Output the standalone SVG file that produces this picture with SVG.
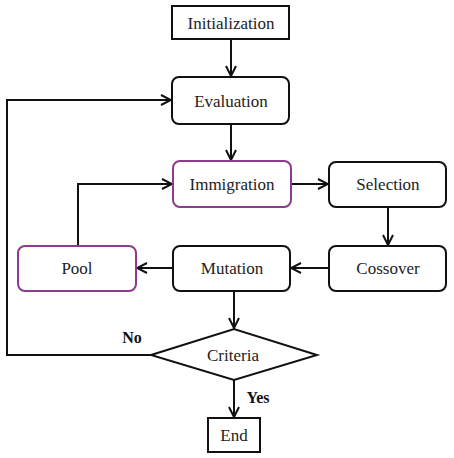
<svg xmlns="http://www.w3.org/2000/svg" width="454" height="458" viewBox="0 0 454 458" font-family="'Liberation Serif', 'DejaVu Serif', serif">
<defs>
<marker id="ah" viewBox="0 0 12 12" refX="11" refY="6" markerWidth="12" markerHeight="12" markerUnits="userSpaceOnUse" orient="auto">
<path d="M1,1 L11,6 L1,11" fill="none" stroke="#111" stroke-width="2"/>
</marker>
<style>
.n{fill:#fff;stroke:#111;stroke-width:2}
.p{fill:#fff;stroke:#8e3a8e;stroke-width:2}
.t{font-family:'Liberation Serif','DejaVu Serif',serif;font-size:17px;fill:#222;text-anchor:middle}
.b{font-family:'Liberation Serif','DejaVu Serif',serif;font-size:16px;font-weight:bold;fill:#111;text-anchor:middle}
.c{fill:none;stroke:#111;stroke-width:2;marker-end:url(#ah)}
</style>
</defs>
<rect width="454" height="458" fill="#fff"/>
<g id="connectors">
<path class="c" d="M231,39 V76"/>
<path class="c" d="M231,124 V160"/>
<path class="c" d="M291,184 H328"/>
<path class="c" d="M388,207 V245"/>
<path class="c" d="M329,268 H291"/>
<path class="c" d="M173,268 H137"/>
<path class="c" d="M78,246 V184 H172"/>
<path class="c" d="M234,291 V328"/>
<path class="c" d="M151,355 H7 V100 H171"/>
<path class="c" d="M234,380 V417"/>
<text class="b" x="132" y="343">No</text>
<text class="b" x="258" y="403">Yes</text>
</g>
<g id="initialization"><rect class="n" x="172" y="6" width="117" height="33"/><text class="t" x="231" y="29">Initialization</text></g>
<g id="evaluation"><rect class="n" x="172" y="77" width="117" height="47" rx="7"/><text class="t" x="231" y="107">Evaluation</text></g>
<g id="immigration"><rect class="p" x="173" y="161" width="118" height="46" rx="7"/><text class="t" x="232" y="190">Immigration</text></g>
<g id="selection"><rect class="n" x="329" y="162" width="117" height="45" rx="7"/><text class="t" x="388" y="190">Selection</text></g>
<g id="cossover"><rect class="n" x="329" y="246" width="117" height="45" rx="7"/><text class="t" x="388" y="274">Cossover</text></g>
<g id="mutation"><rect class="n" x="173" y="246" width="117" height="45" rx="7"/><text class="t" x="232" y="274">Mutation</text></g>
<g id="pool"><rect class="p" x="18" y="246" width="118" height="45" rx="7"/><text class="t" x="77" y="274">Pool</text></g>
<g id="criteria"><polygon class="n" points="151,355 234,329 317,355 234,380"/><text class="t" x="233" y="361">Criteria</text></g>
<g id="end"><rect class="n" x="208" y="418" width="52" height="34"/><text class="t" x="234" y="441">End</text></g>
</svg>
